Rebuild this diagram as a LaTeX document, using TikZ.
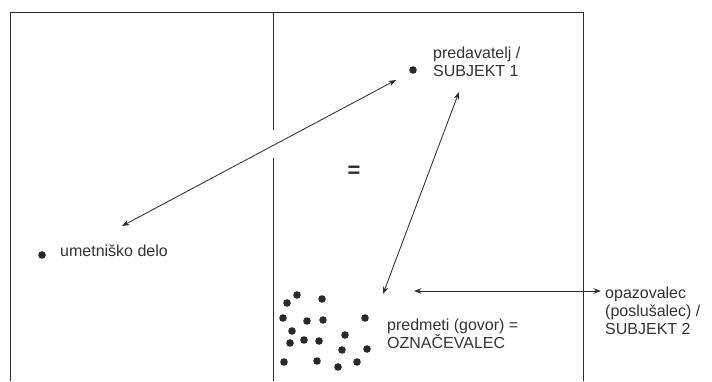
\documentclass[tikz,border=0pt]{standalone}
\usepackage{fontspec}
\setmainfont{Liberation Sans}
\usetikzlibrary{arrows.meta}
\definecolor{ink}{HTML}{2E2E2E}
\definecolor{txt}{HTML}{333333}
\tikzset{
  frame/.style={draw=ink, line width=1pt},
  conn/.style={draw=ink, line width=0.85pt, {Stealth[length=7.5pt,width=5.5pt]}-{Stealth[length=7.5pt,width=5.5pt]}},
  dotm/.style={circle, fill=ink!90!black, inner sep=0pt, minimum size=7.6pt},
  lbl/.style={anchor=west, inner sep=0pt, text=txt, font=\fontsize{16}{18}\selectfont, align=left},
}
\begin{document}
\begin{tikzpicture}[x=1pt,y=-1pt]
\useasboundingbox (0,0) rectangle (712,381);
% frame
\draw[frame] (10,381) -- (10,12) -- (583,12) -- (583,381);
\draw[frame] (273,12) -- (273,130);
\draw[frame] (273,158) -- (273,381);
% labels and dots
\node[dotm] (d1) at (413,70) {};
\node[lbl] (t1) at (433,62) {predavatelj /\\SUBJEKT 1};
\node[dotm] (d2) at (42,255) {};
\node[lbl] (t2) at (60,251) {umetniško delo};
\node[lbl] (t3) at (387,334) {predmeti (govor) =\\OZNAČEVALEC};
\node[lbl] (t4) at (605,311) {opazovalec\\(poslušalec) /\\SUBJEKT 2};
\node[text=ink, font=\bfseries\fontsize{22}{22}\selectfont, inner sep=0pt] (eq) at (354,172) {=};
% cluster of dots
\foreach \i/\p in {1/{(287,303)},2/{(297,295)},3/{(322,299)},4/{(283,318)},5/{(307,321)},6/{(323,320)},7/{(365,318)},8/{(292,331)},9/{(290,343)},10/{(304,340)},11/{(319,341)},12/{(345,335)},13/{(342,350)},14/{(367,349)},15/{(284,362)},16/{(317,361)},17/{(338,367)},18/{(357,362)}}
  \node[dotm] (c\i) at \p {};
% arrow endpoints
\coordinate (aL) at (122,226);
\coordinate (aT) at (396,80);
\coordinate (bT) at (459,92);
\coordinate (bB) at (383,294);
\coordinate (cL) at (414,291);
\coordinate (cR) at (601,291);
\draw[conn] (aL) -- (aT);
\draw[conn] (bT) -- (bB);
\draw[conn] (cL) -- (cR);
\end{tikzpicture}
\end{document}
